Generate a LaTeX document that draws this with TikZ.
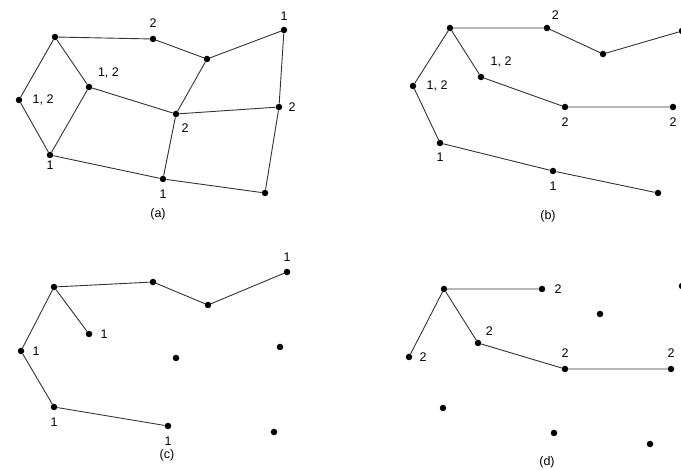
\documentclass[tikz,border=0pt]{standalone}
\usepackage{fontspec}
\setmainfont{Liberation Sans}
\newcommand{\lab}{\fontsize{12.5}{14}\selectfont}
\begin{document}
\begin{tikzpicture}[x=1pt, y=-1pt,
  main/.style = {circle, fill=black, inner sep=0pt, minimum size=6.5pt},
  link/.style = {draw=black!80, line width=0.9pt},
  sub/.style = {font=\lab},
  every label/.style = {font=\lab, inner sep=0pt, text=black},
  label distance=7.5pt]
\useasboundingbox (0,0) rectangle (681,470);

% (a) the whole network
\node[main] (a1) at (55,37) {};
\node[main, label=above:2] (a2) at (153,39) {};
\node[main] (a3) at (207,59) {};
\node[main, label={[label distance=6pt]above:1}] (a4) at (284,30) {};
\node[main, label={[label distance=10pt]right:{1, 2}}] (a5) at (19,100) {};
\node[main, label={[label distance=9pt]above right:{1, 2}}] (a6) at (89,87) {};
\node[main, label=-60:2] (a7) at (176,114) {};
\node[main, label={[label distance=6pt]right:2}] (a8) at (279,107) {};
\node[main, label={[label distance=2pt]below:1}] (a9) at (50,155) {};
\node[main, label={[label distance=7pt]below:1}] (a10) at (163,179) {};
\node[main] (a11) at (265,193) {};
\draw[link] (a5) -- (a1) -- (a2) -- (a3) -- (a4) -- (a8) -- (a11) -- (a10) -- (a9) -- (a5);
\draw[link] (a1) -- (a6) -- (a9);
\draw[link] (a6) -- (a7) -- (a3);
\draw[link] (a7) -- (a8);
\draw[link] (a7) -- (a10);
\node[sub] (capa) at (158,214) {(a)};

% (b) groups 1 and 2
\node[main] (b1) at (450,28) {};
\node[main, label={[label distance=6pt]60:2}] (b2) at (547,28) {};
\node[main] (b3) at (603,54) {};
\node[main] (b4) at (682,31) {};
\node[main, label={[label distance=10pt]right:{1, 2}}] (b5) at (413,86) {};
\node[main, label={[label distance=10pt]above right:{1, 2}}] (b6) at (481,77) {};
\node[main, label=below:2] (b7) at (565,107) {};
\node[main, label=below:2] (b8) at (673,107) {};
\node[main, label={[label distance=6pt]below:1}] (b9) at (440,143) {};
\node[main, label=below:1] (b10) at (553,171) {};
\node[main] (b11) at (658,193) {};
\draw[link] (b5) -- (b1) -- (b2) -- (b3) -- (b4);
\draw[link] (b1) -- (b6) -- (b7) -- (b8);
\draw[link] (b5) -- (b9) -- (b10) -- (b11);
\node[sub] (capb) at (548,216) {(b)};

% (c) group 1
\node[main] (c1) at (54,287) {};
\node[main] (c2) at (153,282) {};
\node[main] (c3) at (208,305) {};
\node[main, label={[label distance=7pt]above:1}] (c4) at (287,272) {};
\node[main, label={[label distance=8pt]right:1}] (c5) at (21,351) {};
\node[main, label={[label distance=8pt]right:1}] (c6) at (89,334) {};
\node[main] (c7) at (176,358) {};
\node[main] (c8) at (280,347) {};
\node[main, label=below:1] (c9) at (54,407) {};
\node[main, label=below:1] (c10) at (168,426) {};
\node[main] (c11) at (274,432) {};
\draw[link] (c5) -- (c1) -- (c2) -- (c3) -- (c4);
\draw[link] (c1) -- (c6);
\draw[link] (c5) -- (c9) -- (c10);
\node[sub] (capc) at (167,455) {(c)};

% (d) group 2
\node[main] (d1) at (444,289) {};
\node[main, label={[label distance=9pt]right:2}] (d2) at (542,289) {};
\node[main] (d3) at (600,314) {};
\node[main] (d4) at (682,286) {};
\node[main, label={[label distance=7pt]right:2}] (d5) at (409,357) {};
\node[main, label=above right:2] (d6) at (478,343) {};
\node[main, label=above:2] (d7) at (565,369) {};
\node[main, label=above:2] (d8) at (671,369) {};
\node[main] (d9) at (443,408) {};
\node[main] (d10) at (554,433) {};
\node[main] (d11) at (650,444) {};
\draw[link] (d5) -- (d1) -- (d2);
\draw[link] (d1) -- (d6) -- (d7) -- (d8);
\node[sub] (capd) at (547,462) {(d)};
\end{tikzpicture}
\end{document}
